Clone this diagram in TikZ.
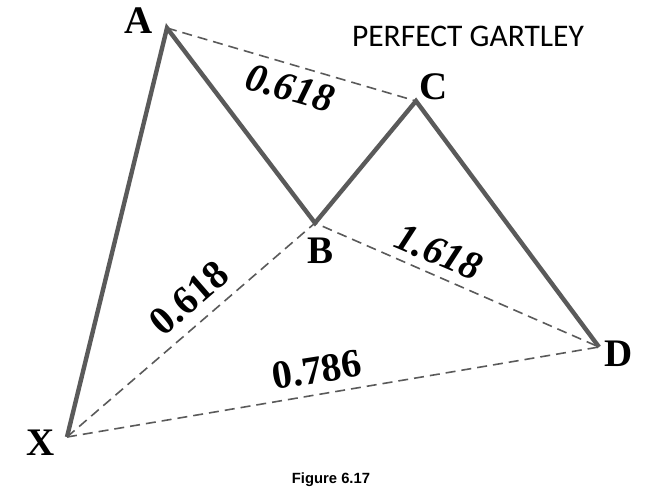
\documentclass[tikz,border=0pt]{standalone}
\usepackage{fontspec}
\setmainfont{Liberation Serif}
\newfontfamily\carl{Carlito}
\newfontfamily\arialf{Liberation Sans}
\definecolor{linegray}{HTML}{5A5A5A}
\begin{document}
\begin{tikzpicture}[x=1pt,y=-1pt,
  leg/.style={draw=linegray,line width=4.4pt,line join=miter,line cap=butt},
  ratio/.style={draw=linegray,line width=1.6pt,dash pattern=on 10pt off 6pt},
  pt/.style={inner sep=0pt,font=\fontsize{39}{39}\selectfont\bfseries},
  num/.style={inner sep=0pt,font=\fontsize{40}{40}\selectfont\bfseries}]
\useasboundingbox (0,0) rectangle (649,499);
\coordinate (X) at (67,437);
\coordinate (A) at (167,28);
\coordinate (B) at (315,223);
\coordinate (C) at (416,101);
\coordinate (D) at (599,347);
\draw[ratio] (A) -- (C);
\draw[ratio] (X) -- (B) -- (D);
\draw[ratio] (X) -- (D);
\draw[leg] (X) -- (A) -- (B) -- (C) -- (D);
\node[pt] (lA) at (139,21) {A};
\node[pt] (lB) at (321,251) {B};
\node[pt] (lC) at (434,87) {C};
\node[pt] (lD) at (619,354) {D};
\node[pt] (lX) at (41,443) {X};
\node[num,rotate=-16,font=\fontsize{40}{40}\selectfont\bfseries\itshape] (rAC) at (290,88) {0.618};
\node[num,rotate=-23,font=\fontsize{40}{40}\selectfont\bfseries\itshape] (rBD) at (439,252) {1.618};
\node[num,rotate=41] (rXB) at (189,298) {0.618};
\node[num,rotate=9] (rXD) at (317,370) {0.786};
\node[inner sep=0pt,font=\fontsize{31.5}{31.5}\carl] (title) at (468,36) {PERFECT GARTLEY};
\node[inner sep=0pt,font=\fontsize{14.8}{14.8}\arialf\bfseries] (cap) at (331,480) {Figure 6.17};
\end{tikzpicture}
\end{document}
